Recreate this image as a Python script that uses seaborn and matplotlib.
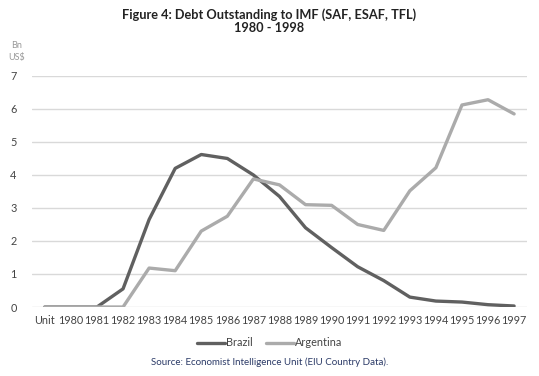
import pandas as pd
import seaborn as sns
import matplotlib.pyplot as plt

categories = ["Unit", "1980", "1981", "1982", "1983", "1984", "1985", "1986", "1987", "1988",
              "1989", "1990", "1991", "1992", "1993", "1994", "1995", "1996", "1997"]
brazil = [0, 0, 0, 0.55, 2.65, 4.2, 4.62, 4.5, 4.0, 3.35, 2.4, 1.8, 1.22, 0.8, 0.3, 0.18, 0.15, 0.07, 0.03]
argentina = [0, 0, 0, 0, 1.18, 1.1, 2.3, 2.75, 3.88, 3.7, 3.1, 3.08, 2.5, 2.32, 3.52, 4.22, 6.12, 6.28, 5.85]
y_ticks = [0, 1, 2, 3, 4, 5, 6, 7]

df = pd.DataFrame({
    "pos": list(range(len(categories))) * 2,
    "value": brazil + argentina,
    "country": ["Brazil"] * len(brazil) + ["Argentina"] * len(argentina),
})

sns.set_style("white")
plt.rcParams['font.family'] = ['Lato', 'DejaVu Sans']

fig = plt.figure(figsize=(5.39, 3.76), dpi=100)
ax = fig.add_axes([0.059, 0.1835, 0.919, 0.6145])

sns.lineplot(data=df, x="pos", y="value", hue="country",
             palette={"Brazil": "#606060", "Argentina": "#ababab"},
             linewidth=2.4, ax=ax, legend=False)

ax.set_xlim(-0.5, 18.5)
ax.set_ylim(0, 7)
ax.set_yticks(y_ticks)
ax.set_xticks(range(len(categories)))
ax.set_xticklabels(categories, fontsize=7.8, color="#444444")
ax.tick_params(axis="y", labelsize=7.8, colors="#444444", length=0, pad=11)
ax.tick_params(axis="x", length=0, pad=6)
ax.grid(axis="y", color="#d9d9d9", linewidth=1)
ax.set_axisbelow(True)
for s in ax.spines.values():
    s.set_visible(False)
ax.set_xlabel("")
ax.set_ylabel("")

fig.text(0.5, 0.962, "Figure 4: Debt Outstanding to IMF (SAF, ESAF, TFL)",
         ha="center", va="center", fontsize=9.2, fontweight="bold", color="#222222")
fig.text(0.5, 0.925, "1980 - 1998", ha="center", va="center", fontsize=9.2,
         fontweight="bold", color="#222222")
fig.text(0.03, 0.88, "Bn", ha="center", va="center", fontsize=6.5, color="#999999")
fig.text(0.03, 0.847, "US$", ha="center", va="center", fontsize=6.5, color="#999999")

h1, = ax.plot([], [], color="#606060", linewidth=2.4, label="Brazil")
h2, = ax.plot([], [], color="#ababab", linewidth=2.4, label="Argentina")
fig.legend(handles=[h1, h2], loc="center", bbox_to_anchor=(0.5, 0.088), ncol=2,
           frameon=False, fontsize=7.8, handlelength=2.6, handletextpad=0.1,
           columnspacing=1.2, labelcolor="#444444")

fig.text(0.5, 0.037, "Source: Economist Intelligence Unit (EIU Country Data).",
         ha="center", va="center", fontsize=7, color="#2b3a67")

fig.savefig("out.png", dpi=100)
